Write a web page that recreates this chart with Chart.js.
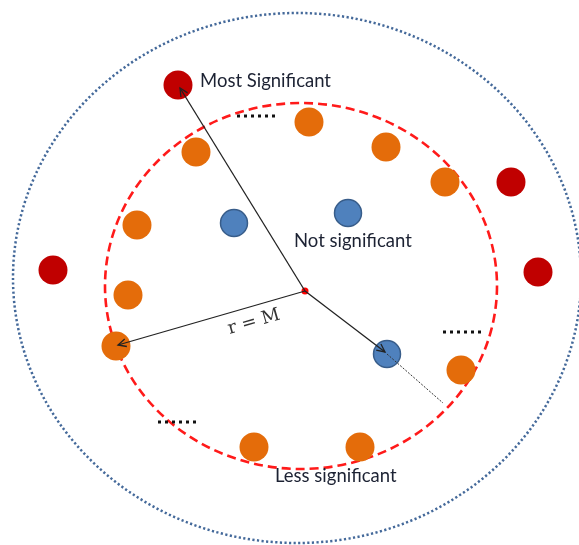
<!DOCTYPE html>
<html>
<head>
<meta charset="utf-8">
<script src="https://cdn.jsdelivr.net/npm/chart.js@4/dist/chart.umd.min.js"></script>
<style>
  html, body { margin: 0; padding: 0; background: #fff; }
  #diagram { display: block; }
</style>
</head>
<body>
<canvas id="diagram" width="579" height="545"></canvas>
<script>
// marker positions, in axis units (axis spans the page 0..579 by 0..545)
let redX = [178, 53, 511, 538];
let redY = [85, 270, 182, 272];

let orangeX = [309, 196, 386, 445, 137, 128, 116, 461, 254, 360];
let orangeY = [122, 152, 147, 182, 225, 295, 346, 370, 447, 447];

let blueX = [234, 348, 387];
let blueY = [223, 213, 354];

let centerX = [305];
let centerY = [291];

// arrows go from the centre to these points
let arrowX = [180, 118, 385];
let arrowY = [88, 345, 352];

// thin dashed tail past the blue point
let tailX = [387, 443];
let tailY = [354, 403];

// "......" marks (start, end)
let dotsX = [[237, 276], [443, 481], [158, 197]];
let dotsY = [[116, 116], [332, 332], [422, 422]];

// rings: centre x, centre y, radius x, radius y
let outerRing = [297, 278, 284, 265];
let innerRing = [301, 286, 196, 183];

let labelText = ['Most Significant', 'Not significant', 'Less significant'];
let labelX = [200, 294, 275];
let labelY = [81, 241, 476];

function pts(xs, ys)
{
    return xs.map((x, i) => { return { x: x, y: ys[i] } })
}

let datasets = [];

// lines from the centre with arrow heads
for (let i = 0; i < arrowX.length; i++)
{
    datasets.push({
        type: 'line',
        data: pts([centerX[0], arrowX[i]], [centerY[0], arrowY[i]]),
        borderColor: '#222',
        borderWidth: 1.3,
        pointRadius: 0,
        arrow: true,
        order: 0
    })
}

datasets.push({
    type: 'line',
    data: pts(tailX, tailY),
    borderColor: '#333',
    borderWidth: 1,
    borderDash: [2, 1.5],
    pointRadius: 0,
    order: 0
})

for (let i = 0; i < dotsX.length; i++)
{
    datasets.push({
        type: 'line',
        data: pts(dotsX[i], dotsY[i]),
        borderColor: '#111',
        borderWidth: 3,
        borderDash: [3, 4],
        pointRadius: 0,
        order: 0
    })
}

datasets.push({
    data: pts(centerX, centerY),
    backgroundColor: '#ff0000',
    borderWidth: 0,
    pointRadius: 3.5,
    order: 0
})

datasets.push({
    data: pts(redX, redY),
    backgroundColor: '#c00000',
    borderColor: '#c00000',
    borderWidth: 0,
    pointRadius: 14.5,
    order: 1
})
datasets.push({
    data: pts(orangeX, orangeY),
    backgroundColor: '#e46c0a',
    borderWidth: 0,
    pointRadius: 14.5,
    order: 1
})
datasets.push({
    data: pts(blueX, blueY),
    backgroundColor: '#4f81bd',
    borderColor: '#385d8a',
    borderWidth: 1.5,
    pointRadius: 13.5,
    order: 1
})

const rings = {
    id: 'rings',
    beforeDatasetsDraw(chart)
    {
        let ctx = chart.ctx;
        let sx = chart.scales.x, sy = chart.scales.y;
        function ring(r, color, width, dash)
        {
            let cx = sx.getPixelForValue(r[0]);
            let cy = sy.getPixelForValue(r[1]);
            let rx = Math.abs(sx.getPixelForValue(r[0] + r[2]) - cx);
            let ry = Math.abs(sy.getPixelForValue(r[1] + r[3]) - cy);
            ctx.save();
            ctx.strokeStyle = color;
            ctx.lineWidth = width;
            ctx.setLineDash(dash);
            ctx.beginPath();
            ctx.ellipse(cx, cy, rx, ry, 0, 0, Math.PI * 2);
            ctx.stroke();
            ctx.restore();
        }
        ring(outerRing, '#44699a', 2.5, [2.2, 2.4]);
        ring(innerRing, '#ff1a1a', 2.6, [9, 5]);
    }
}

const arrowsAndText = {
    id: 'arrowsAndText',
    afterDatasetsDraw(chart)
    {
        let ctx = chart.ctx;
        chart.data.datasets.forEach((ds, i) =>
        {
            if (!ds.arrow) return;
            let els = chart.getDatasetMeta(i).data;
            let a = els[0], b = els[els.length - 1];
            let ang = Math.atan2(b.y - a.y, b.x - a.x);
            let len = 9;
            ctx.save();
            ctx.strokeStyle = '#222';
            ctx.lineWidth = 1.3;
            ctx.beginPath();
            ctx.moveTo(b.x - len * Math.cos(ang - 0.45), b.y - len * Math.sin(ang - 0.45));
            ctx.lineTo(b.x, b.y);
            ctx.lineTo(b.x - len * Math.cos(ang + 0.45), b.y - len * Math.sin(ang + 0.45));
            ctx.stroke();
            ctx.restore();
        })

        let sx = chart.scales.x, sy = chart.scales.y;
        ctx.save();
        ctx.fillStyle = '#1c2233';
        ctx.font = '18.5px Lato, "Open Sans", sans-serif';
        ctx.textBaseline = 'middle';
        ctx.textAlign = 'left';
        for (let i = 0; i < labelText.length; i++)
        {
            ctx.fillText(labelText[i], sx.getPixelForValue(labelX[i]), sy.getPixelForValue(labelY[i]));
        }
        // r = M along the radius line
        let ax = sx.getPixelForValue(arrowX[1]), ay = sy.getPixelForValue(arrowY[1]);
        let cx = sx.getPixelForValue(centerX[0]), cy = sy.getPixelForValue(centerY[0]);
        let ang = Math.atan2(cy - ay, cx - ax);
        ctx.translate(sx.getPixelForValue(254), sy.getPixelForValue(322));
        ctx.rotate(ang);
        ctx.textAlign = 'center';
        ctx.font = '18px "DejaVu Serif", serif';
        ctx.fillStyle = '#333';
        ctx.fillText('r = M', 0, 0);
        ctx.restore();
    }
}

let canvasElement = document.getElementById('diagram');

var config = {
    type: 'scatter',
    data: { datasets: datasets },
    options: {
        responsive: false,
        animation: false,
        devicePixelRatio: 1,
        layout: { padding: 0, autoPadding: false },
        plugins: { legend: { display: false }, tooltip: { enabled: false } },
        scales: {
            x: { type: 'linear', display: false, min: 0, max: 579 },
            y: { type: 'linear', display: false, min: 0, max: 545, reverse: true }
        }
    },
    plugins: [rings, arrowsAndText]
}

var diagram = new Chart(canvasElement, config)
</script>
</body>
</html>
